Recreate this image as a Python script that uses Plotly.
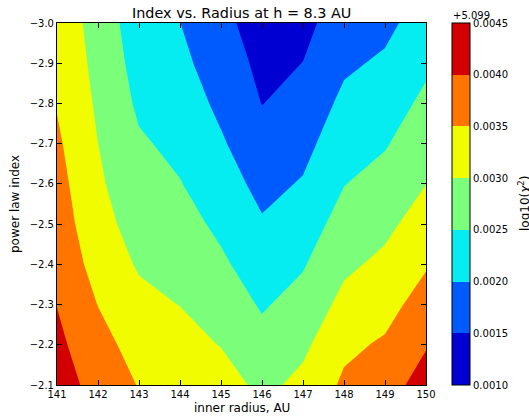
import plotly.graph_objects as go

# Grid of the fit: inner radius (AU) along x, power law index along y
inner_radius = [141, 142, 143, 144, 145, 146, 147, 148, 149, 150]
power_index = [-3.0, -2.9, -2.8, -2.7, -2.6, -2.5, -2.4, -2.3, -2.2, -2.1]

# log10(chi^2) minus the 5.099 offset; one row per power law index
chi2_offset = [
    [0.003270, 0.002840, 0.002190, 0.002005, 0.001620, 0.001300, 0.001380, 0.001730, 0.001880, 0.002230],
    [0.003370, 0.002870, 0.002310, 0.002120, 0.001750, 0.001390, 0.001505, 0.001920, 0.002074, 0.002410],
    [0.003470, 0.002930, 0.002420, 0.002250, 0.001900, 0.001490, 0.001680, 0.002109, 0.002267, 0.002608],
    [0.003580, 0.003003, 0.002560, 0.002385, 0.002056, 0.001676, 0.001855, 0.002298, 0.002461, 0.002804],
    [0.003680, 0.003070, 0.002700, 0.002520, 0.002226, 0.001862, 0.002040, 0.002487, 0.002672, 0.002995],
    [0.003780, 0.003150, 0.002830, 0.002680, 0.002400, 0.002050, 0.002250, 0.002696, 0.002886, 0.003227],
    [0.003885, 0.003300, 0.002950, 0.002835, 0.002580, 0.002250, 0.002460, 0.002907, 0.003107, 0.003455],
    [0.003990, 0.003490, 0.003130, 0.002990, 0.002780, 0.002450, 0.002680, 0.003135, 0.003334, 0.003706],
    [0.004110, 0.003680, 0.003300, 0.003200, 0.002980, 0.002660, 0.002900, 0.003400, 0.003560, 0.003964],
    [0.004300, 0.003770, 0.003480, 0.003400, 0.003240, 0.002870, 0.003130, 0.003580, 0.003780, 0.004220],
]

OFFSET_LABEL = "+5.099"
level_start, level_end, level_step = 0.0010, 0.0045, 0.0005
level_ticks = [0.0010, 0.0015, 0.0020, 0.0025, 0.0030, 0.0035, 0.0040, 0.0045]

# jet colours sampled at the middle of each filled band
band_colors = [
    "rgb(0,0,210)", "rgb(0,91,255)", "rgb(6,237,241)", "rgb(123,255,123)",
    "rgb(241,252,0)", "rgb(255,117,0)", "rgb(210,0,0)",
]

n = len(band_colors)
colorscale = []
for i, c in enumerate(band_colors):
    colorscale.append([i / n, c])
    colorscale.append([(i + 1) / n, c])

W, H = 529, 417
ML, MR, MT, MB = 57, 103, 23, 32
PW, PH = W - ML - MR, H - MT - MB


def px_x(px):
    return (px - ML) / PW


def px_y(py):
    return (H - MB - py) / PH


FONT = "DejaVu Sans"

fig = go.Figure(
    go.Contour(
        x=inner_radius,
        y=power_index,
        z=chi2_offset,
        zmin=level_start,
        # a hair above the top level so the band count is not lost to rounding
        zmax=level_end + level_step * 1e-4,
        colorscale=colorscale,
        contours=dict(start=level_start, end=level_end, size=level_step, coloring="fill"),
        line=dict(width=0, smoothing=0),
        colorbar=dict(
            x=px_x(451.5), xanchor="left", xpad=0,
            y=0.5, yanchor="middle", ypad=0,
            len=1, lenmode="fraction", thickness=17.5,
            outlinewidth=1, outlinecolor="black",
            tickvals=level_ticks,
            ticktext=[f"{v:.4f}" for v in level_ticks],
            ticks="", tickfont=dict(family=FONT, size=10, color="black"),
        ),
        hoverinfo="skip",
    )
)

axis_common = dict(
    showline=True, linecolor="black", linewidth=1, mirror="ticks",
    ticks="inside", ticklen=5, tickcolor="black", showgrid=False, zeroline=False,
    tickfont=dict(family=FONT, size=10, color="black"),
)

fig.update_xaxes(range=[141, 150], dtick=1, tick0=141, **axis_common)
fig.update_yaxes(range=[-2.1, -3.0], dtick=0.1, tick0=-3.0, tickformat=".1f", **axis_common)

fig.update_layout(
    width=W, height=H,
    margin=dict(l=ML, r=MR, t=MT, b=MB),
    paper_bgcolor="white", plot_bgcolor="white",
    font=dict(family=FONT, color="black"),
    showlegend=False,
    annotations=[
        dict(text="Index vs. Radius at h = 8.3 AU", x=0.5, y=px_y(13), xref="paper", yref="paper",
             xanchor="center", yanchor="middle", showarrow=False, font=dict(size=14.4)),
        dict(text="inner radius, AU", x=0.5, y=px_y(407.5), xref="paper", yref="paper",
             xanchor="center", yanchor="middle", showarrow=False, font=dict(size=12)),
        dict(text="power law index", x=px_x(15), y=0.5, xref="paper", yref="paper",
             xanchor="center", yanchor="middle", textangle=-90, showarrow=False, font=dict(size=12)),
        dict(text=OFFSET_LABEL, x=px_x(451), y=px_y(15), xref="paper", yref="paper",
             xanchor="left", yanchor="middle", showarrow=False, font=dict(size=10)),
        dict(text="log10(<i>χ</i><sup>2</sup>)", x=px_x(524), y=0.5, xref="paper", yref="paper",
             xanchor="center", yanchor="middle", textangle=-90, showarrow=False, font=dict(size=12)),
    ],
)

fig.write_html("out.html")
